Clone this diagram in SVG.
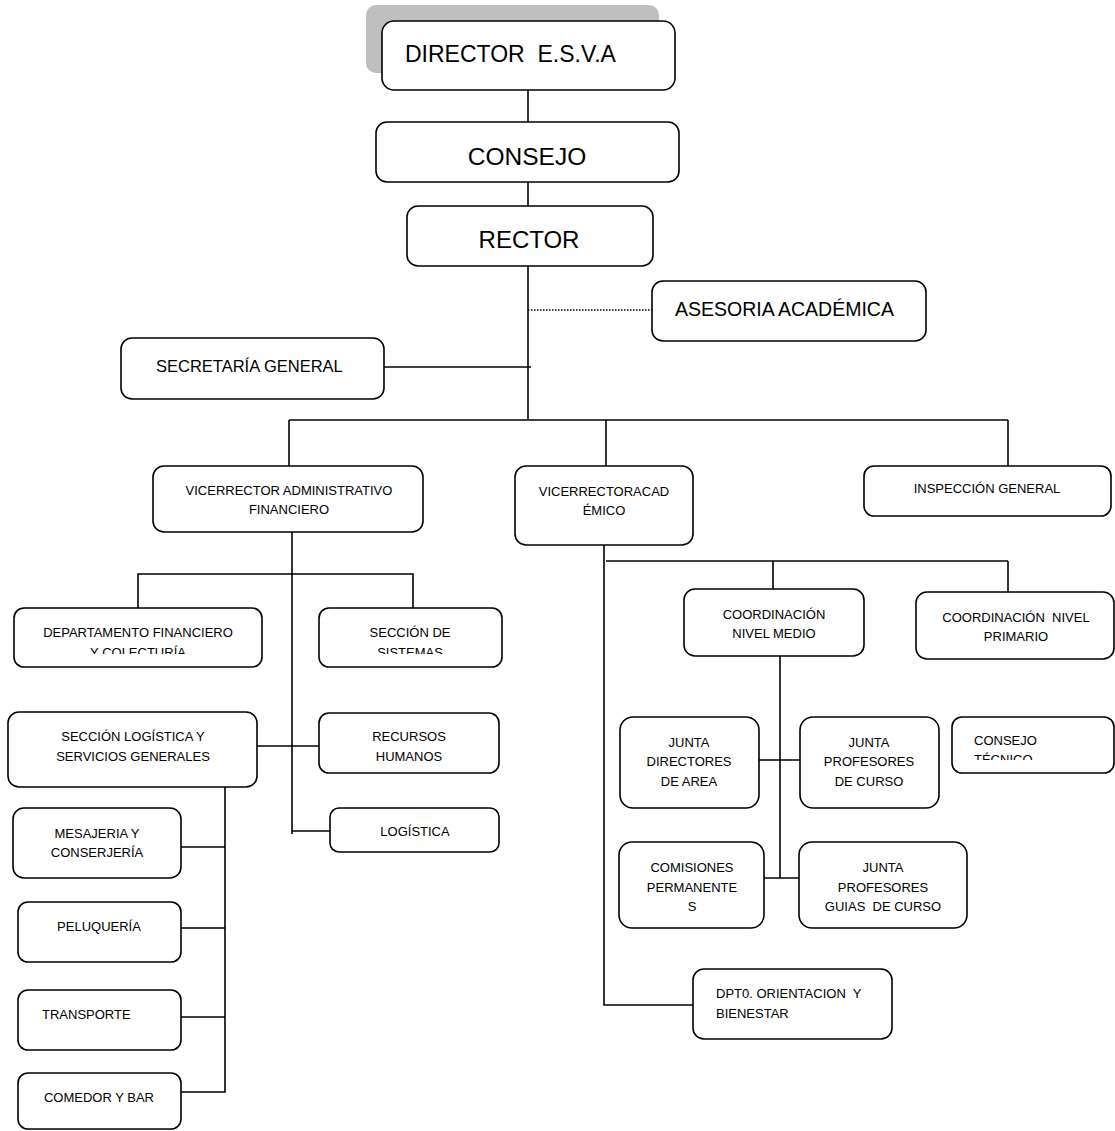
<svg xmlns="http://www.w3.org/2000/svg" width="1115" height="1131" viewBox="0 0 1115 1131" xml:space="preserve">
<style>
.box{fill:#fff;stroke:#000;stroke-width:1.6}
.ln{fill:none;stroke:#000;stroke-width:1.6}
.t{font-family:"Liberation Sans",Arial,sans-serif;font-size:13px;fill:#000;white-space:pre}
.c{text-anchor:middle}
</style>
<defs>
<clipPath id="cpDep"><rect x="14" y="600" width="250" height="54"/></clipPath>
<clipPath id="cpSis"><rect x="319" y="600" width="185" height="54"/></clipPath>
<clipPath id="cpTec"><rect x="952" y="710" width="165" height="50"/></clipPath>
</defs>
<rect width="1115" height="1131" fill="#fff"/>
<g id="connectors">
<line class="ln" x1="528" y1="90" x2="528" y2="122"/>
<line class="ln" x1="528" y1="182" x2="528" y2="207"/>
<line class="ln" x1="528" y1="266" x2="528" y2="419" stroke-width="1.2"/>
<line class="ln" x1="528" y1="310" x2="652" y2="310" stroke-dasharray="1.5,1.5" stroke-width="1.2"/>
<line class="ln" x1="384" y1="367" x2="531" y2="367" stroke-width="2"/>
<line class="ln" x1="289" y1="420" x2="1008" y2="420" stroke-width="2"/>
<line class="ln" x1="289" y1="420" x2="289" y2="466"/>
<line class="ln" x1="606" y1="420" x2="606" y2="466"/>
<line class="ln" x1="1008" y1="420" x2="1008" y2="466"/>
<line class="ln" x1="292" y1="529" x2="292" y2="834"/>
<polyline class="ln" points="138,608 138,574 413,574 413,608"/>
<line class="ln" x1="257" y1="746" x2="319" y2="746"/>
<line class="ln" x1="292" y1="831" x2="330" y2="831"/>
<polyline class="ln" points="225,787 225,1092 181,1092"/>
<line class="ln" x1="181" y1="847" x2="225" y2="847"/>
<line class="ln" x1="181" y1="928" x2="225" y2="928"/>
<line class="ln" x1="181" y1="1017" x2="225" y2="1017"/>
<polyline class="ln" points="604,544 604,1005 693,1005"/>
<line class="ln" x1="606" y1="561" x2="1008" y2="561"/>
<line class="ln" x1="773" y1="561" x2="773" y2="589"/>
<line class="ln" x1="1008" y1="561" x2="1008" y2="592"/>
<line class="ln" x1="780" y1="656" x2="780" y2="878"/>
<line class="ln" x1="759" y1="760" x2="800" y2="760"/>
<line class="ln" x1="762" y1="878" x2="802" y2="878"/>
</g>
<g id="director">
<rect x="366" y="5" width="293" height="68" rx="10" fill="#bfbfbf"/>
<rect class="box" x="382" y="21" width="293" height="69" rx="12"/>
<text class="t" x="405" y="62" style="font-size:23px">DIRECTOR  E.S.V.A</text>
</g>
<g id="consejo">
<rect class="box" x="376" y="122" width="303" height="60" rx="11"/>
<text class="t c" x="527" y="165" style="font-size:24.5px">CONSEJO</text>
</g>
<g id="rector">
<rect class="box" x="407" y="206" width="246" height="60" rx="11"/>
<text class="t c" x="529" y="248" style="font-size:24px">RECTOR</text>
</g>
<g id="asesoria">
<rect class="box" x="652" y="281" width="274" height="60" rx="11"/>
<text class="t" x="675" y="316" style="font-size:19.5px">ASESORIA ACADÉMICA</text>
</g>
<g id="secretaria">
<rect class="box" x="121" y="338" width="263" height="61" rx="11"/>
<text class="t" x="156" y="372" style="font-size:16.5px">SECRETARÍA GENERAL</text>
</g>
<g id="vadm">
<rect class="box" x="153" y="466" width="270" height="66" rx="11"/>
<text class="t c" x="289" y="495">VICERRECTOR ADMINISTRATIVO</text>
<text class="t c" x="289" y="514">FINANCIERO</text>
</g>
<g id="vacad">
<rect class="box" x="515" y="466" width="178" height="79" rx="11"/>
<text class="t c" x="604" y="496">VICERRECTORACAD</text>
<text class="t c" x="604" y="515">ÉMICO</text>
</g>
<g id="inspeccion">
<rect class="box" x="864" y="466" width="247" height="50" rx="10"/>
<text class="t c" x="987" y="493">INSPECCIÓN GENERAL</text>
</g>
<g id="depfin">
<rect class="box" x="14" y="608" width="248" height="59" rx="10"/>
<g clip-path="url(#cpDep)">
<text class="t c" x="138" y="637">DEPARTAMENTO FINANCIERO</text>
<text class="t c" x="138" y="657">Y COLECTURÍA</text>
</g>
</g>
<g id="sistemas">
<rect class="box" x="319" y="608" width="183" height="59" rx="10"/>
<g clip-path="url(#cpSis)">
<text class="t c" x="410" y="637">SECCIÓN DE</text>
<text class="t c" x="410" y="657">SISTEMAS</text>
</g>
</g>
<g id="logistica-sg">
<rect class="box" x="8" y="712" width="249" height="75" rx="11"/>
<text class="t c" x="133" y="741">SECCIÓN LOGÍSTICA Y</text>
<text class="t c" x="133" y="761">SERVICIOS GENERALES</text>
</g>
<g id="rrhh">
<rect class="box" x="319" y="713" width="180" height="60" rx="10"/>
<text class="t c" x="409" y="741">RECURSOS</text>
<text class="t c" x="409" y="761">HUMANOS</text>
</g>
<g id="logistica">
<rect class="box" x="330" y="808" width="169" height="44" rx="9"/>
<text class="t c" x="415" y="836">LOGÍSTICA</text>
</g>
<g id="mesajeria">
<rect class="box" x="13" y="808" width="168" height="70" rx="11"/>
<text class="t c" x="97" y="838">MESAJERIA Y</text>
<text class="t c" x="97" y="857">CONSERJERÍA</text>
</g>
<g id="peluqueria">
<rect class="box" x="18" y="902" width="163" height="60" rx="10"/>
<text class="t c" x="99" y="931">PELUQUERÍA</text>
</g>
<g id="transporte">
<rect class="box" x="18" y="990" width="163" height="60" rx="10"/>
<text class="t" x="42" y="1019">TRANSPORTE</text>
</g>
<g id="comedor">
<rect class="box" x="18" y="1073" width="163" height="56" rx="10"/>
<text class="t c" x="99" y="1102">COMEDOR Y BAR</text>
</g>
<g id="coord-medio">
<rect class="box" x="684" y="589" width="180" height="67" rx="11"/>
<text class="t c" x="774" y="619">COORDINACIÓN</text>
<text class="t c" x="774" y="638">NIVEL MEDIO</text>
</g>
<g id="coord-primario">
<rect class="box" x="916" y="592" width="198" height="67" rx="11"/>
<text class="t c" x="1016" y="622">COORDINACIÓN  NIVEL</text>
<text class="t c" x="1016" y="641">PRIMARIO</text>
</g>
<g id="junta-directores">
<rect class="box" x="620" y="717" width="139" height="91" rx="13"/>
<text class="t c" x="689" y="747">JUNTA</text>
<text class="t c" x="689" y="766">DIRECTORES</text>
<text class="t c" x="689" y="786">DE AREA</text>
</g>
<g id="junta-profesores">
<rect class="box" x="800" y="717" width="139" height="91" rx="13"/>
<text class="t c" x="869" y="747">JUNTA</text>
<text class="t c" x="869" y="766">PROFESORES</text>
<text class="t c" x="869" y="786">DE CURSO</text>
</g>
<g id="consejo-tecnico">
<rect class="box" x="952" y="717" width="162" height="56" rx="10"/>
<g clip-path="url(#cpTec)">
<text class="t" x="974" y="745">CONSEJO</text>
<text class="t" x="974" y="764">TÉCNICO</text>
</g>
</g>
<g id="comisiones">
<rect class="box" x="619" y="842" width="145" height="86" rx="13"/>
<text class="t c" x="692" y="872">COMISIONES</text>
<text class="t c" x="692" y="892">PERMANENTE</text>
<text class="t c" x="692" y="911">S</text>
</g>
<g id="junta-guias">
<rect class="box" x="799" y="842" width="168" height="86" rx="13"/>
<text class="t c" x="883" y="872">JUNTA</text>
<text class="t c" x="883" y="892">PROFESORES</text>
<text class="t c" x="883" y="911">GUIAS  DE CURSO</text>
</g>
<g id="dpto-orientacion">
<rect class="box" x="693" y="969" width="199" height="70" rx="11"/>
<text class="t" x="716" y="998">DPT0. ORIENTACION  Y</text>
<text class="t" x="716" y="1018">BIENESTAR</text>
</g>
</svg>
